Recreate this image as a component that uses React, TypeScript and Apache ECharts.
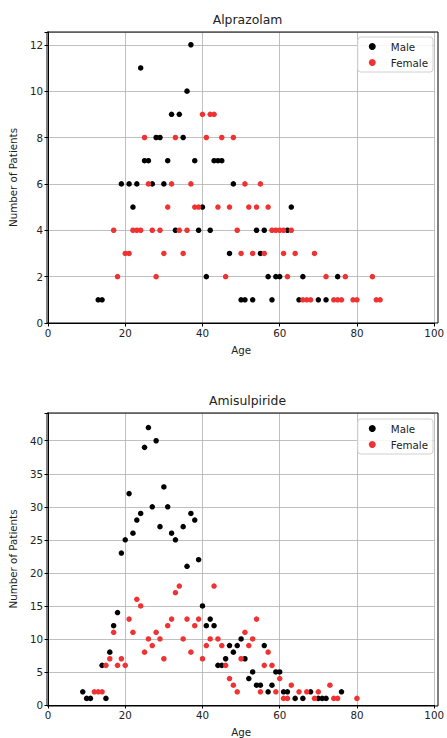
import React, { useEffect, useRef } from "react";
import * as echarts from "echarts";

// Alprazolam: [age, number of patients]
const alprazolamMale: number[][] = [
  [37, 12], [24, 11], [36, 10], [32, 9], [34, 9],
  [28, 8], [29, 8], [35, 8],
  [25, 7], [26, 7], [31, 7], [38, 7], [43, 7], [44, 7], [45, 7],
  [19, 6], [21, 6], [23, 6], [27, 6], [30, 6], [48, 6],
  [22, 5], [40, 5], [63, 5],
  [33, 4], [39, 4], [42, 4], [54, 4], [56, 4], [62, 4],
  [47, 3], [55, 3],
  [41, 2], [57, 2], [59, 2], [60, 2], [66, 2], [75, 2],
  [13, 1], [14, 1], [50, 1], [51, 1], [53, 1], [58, 1], [65, 1], [70, 1], [72, 1],
];
const alprazolamFemale: number[][] = [
  [40, 9], [42, 9], [43, 9],
  [25, 8], [33, 8], [41, 8], [45, 8], [48, 8],
  [26, 6], [32, 6], [37, 6], [51, 6], [55, 6],
  [31, 5], [38, 5], [39, 5], [44, 5], [47, 5], [52, 5], [54, 5], [57, 5],
  [17, 4], [22, 4], [23, 4], [24, 4], [27, 4], [29, 4], [34, 4], [36, 4], [49, 4],
  [58, 4], [59, 4], [60, 4], [61, 4], [63, 4],
  [20, 3], [21, 3], [30, 3], [35, 3], [50, 3], [53, 3], [56, 3], [61, 3], [64, 3], [69, 3],
  [18, 2], [28, 2], [46, 2], [62, 2], [72, 2], [77, 2], [84, 2],
  [66, 1], [67, 1], [68, 1], [74, 1], [75, 1], [76, 1], [79, 1], [80, 1], [85, 1], [86, 1],
];

// Amisulpiride: [age, number of patients]
const amisulpirideMale: number[][] = [
  [9, 2], [10, 1], [11, 1], [14, 6], [15, 1], [16, 8], [17, 12], [18, 14], [19, 23],
  [20, 25], [21, 32], [22, 26], [23, 28], [24, 29], [25, 39], [26, 42], [27, 30],
  [28, 40], [29, 27], [30, 33], [31, 30], [32, 26], [33, 25], [35, 27], [36, 21],
  [37, 29], [38, 28], [39, 22], [40, 15], [41, 12], [42, 13], [43, 12], [44, 6],
  [45, 6], [46, 7], [47, 9], [48, 8], [49, 9], [50, 10], [51, 7], [52, 4], [53, 5],
  [54, 3], [55, 3], [56, 9], [57, 2], [58, 3], [59, 5], [60, 5], [61, 2], [62, 2],
  [64, 1], [66, 1], [68, 2], [70, 1], [71, 1], [72, 1], [76, 2],
];
const amisulpirideFemale: number[][] = [
  [12, 2], [13, 2], [14, 2], [15, 6], [16, 7], [17, 11], [18, 6], [19, 7], [20, 6],
  [21, 13], [22, 11], [23, 16], [24, 15], [25, 8], [26, 10], [27, 9], [28, 11],
  [29, 10], [30, 7], [31, 12], [32, 13], [33, 17], [34, 18], [35, 10], [36, 13],
  [37, 8], [38, 12], [39, 13], [40, 7], [41, 9], [42, 10], [43, 18], [44, 10],
  [45, 9], [46, 6], [47, 4], [48, 3], [49, 2], [50, 7], [51, 11], [52, 9], [53, 10],
  [54, 13], [55, 2], [56, 6], [57, 8], [58, 6], [59, 2], [60, 4], [61, 1], [62, 1],
  [63, 3], [65, 2], [67, 2], [69, 1], [70, 2], [73, 3], [74, 1], [75, 1], [80, 1],
];

const titles = ["Alprazolam", "Amisulpiride"];
const seriesNames = ["Male", "Female"];
const xLabel = "Age";
const yLabel = "Number of Patients";

const FONT = "DejaVu Sans";
const MALE = "#000000";
const FEMALE = "#f03232";
const GRIDC = "#b0b0b0";

export default function App() {
  const ref = useRef<HTMLDivElement>(null);
  useEffect(() => {
    if (!ref.current) return;
    const chart = echarts.init(ref.current, undefined, { renderer: "svg" });
    const grids = [
      { left: 47, top: 32, width: 391, height: 291 },
      { left: 47, top: 413, width: 391, height: 293 },
    ];
    const yMax = [12.55, 44.2];
    const yInt = [2, 5];
    const mkX = (i: number) => ({
      type: "value",
      gridIndex: i,
      min: 0,
      max: 100,
      interval: 20,
      name: xLabel,
      nameLocation: "middle",
      nameGap: 22,
      nameTextStyle: { fontFamily: FONT, fontSize: 10.3, color: "#222", verticalAlign: "top" },
      axisLine: { show: true, onZero: false, lineStyle: { color: "#000", width: 1 } },
      axisTick: { show: true, length: 3.5, lineStyle: { color: "#000" } },
      axisLabel: { fontFamily: FONT, fontSize: 10.3, color: "#222", margin: 5 },
      splitLine: { show: true, lineStyle: { color: GRIDC, width: 0.8 } },
    });
    const mkY = (i: number) => ({
      type: "value",
      gridIndex: i,
      min: 0,
      max: yMax[i],
      interval: yInt[i],
      name: yLabel,
      nameLocation: "middle",
      nameGap: 30,
      nameTextStyle: { fontFamily: FONT, fontSize: 10.3, color: "#222" },
      axisLine: { show: true, onZero: false, lineStyle: { color: "#000", width: 1 } },
      axisTick: { show: true, length: 3.5, lineStyle: { color: "#000" } },
      axisLabel: {
        fontFamily: FONT,
        fontSize: 10.3,
        color: "#222",
        margin: 5,
        formatter: (v: number) => (Math.abs(v / yInt[i] - Math.round(v / yInt[i])) < 1e-6 ? String(v) : ""),
      },
      splitLine: { show: true, lineStyle: { color: GRIDC, width: 0.8 } },
    });
    const datasets = [
      [alprazolamMale, alprazolamFemale],
      [amisulpirideMale, amisulpirideFemale],
    ];
    const series: any[] = [];
    datasets.forEach((pair, i) => {
      pair.forEach((d, j) => {
        series.push({
          type: "scatter",
          name: seriesNames[j],
          xAxisIndex: i,
          yAxisIndex: i,
          data: d,
          symbol: "circle",
          symbolSize: 5.5,
          itemStyle: { color: j === 0 ? MALE : FEMALE, opacity: 1 },
          emphasis: { disabled: true },
          z: 3 + j,
        });
      });
    });
    const legendBase = {
      orient: "vertical",
      right: 14,
      data: seriesNames.map((n) => ({ name: n, icon: "circle" })),
      itemWidth: 7,
      itemHeight: 7,
      itemGap: 3,
      padding: [3, 5, 3, 11],
      borderColor: "#d0d0d0",
      borderWidth: 1,
      borderRadius: 3,
      backgroundColor: "rgba(255,255,255,0.85)",
      selectedMode: false,
      textStyle: { fontFamily: FONT, fontSize: 10.3, color: "#222", lineHeight: 13, padding: [0, 0, 0, 10] },
      z: 10,
    };
    chart.setOption({
      animation: false,
      color: [MALE, FEMALE],
      title: titles.map((t, i) => ({
        text: t,
        left: grids[i].left + grids[i].width / 2,
        top: grids[i].top - 24,
        textAlign: "center",
        textStyle: { fontFamily: FONT, fontSize: 12.4, fontWeight: "normal", color: "#222" },
      })),
      legend: [
        { ...legendBase, top: 37 },
        { ...legendBase, top: 419 },
      ],
      grid: grids,
      xAxis: [mkX(0), mkX(1)],
      yAxis: [mkY(0), mkY(1)],
      series,
      graphic: grids.map((g) => ({
        type: "rect",
        shape: { x: g.left, y: g.top, width: g.width, height: g.height },
        style: { fill: "none", stroke: "#000", lineWidth: 1 },
        silent: true,
        z: 2,
      })),
    });
    return () => chart.dispose();
  }, []);
  return (
    <div
      ref={ref}
      style={{ position: "fixed", left: 0, top: 0, width: 447, height: 738, background: "#fff" }}
    />
  );
}
